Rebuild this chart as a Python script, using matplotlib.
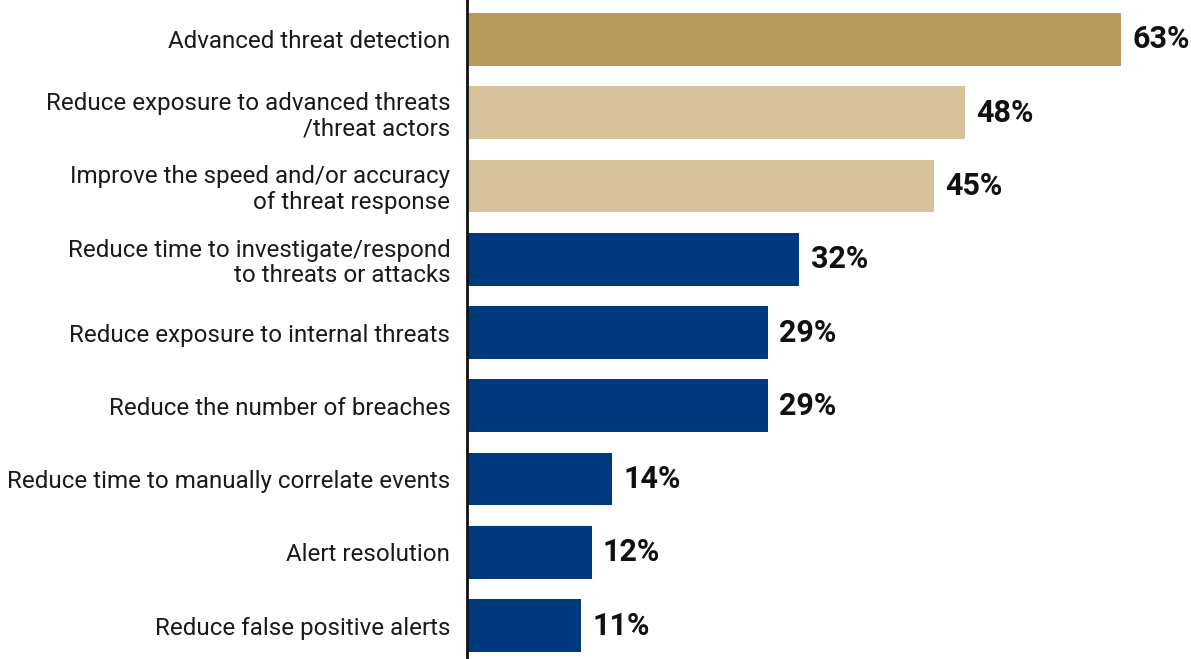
import matplotlib
matplotlib.use('Agg')
import matplotlib.pyplot as plt

# benefit categories, top to bottom
labels = [
    'Advanced threat detection',
    'Reduce exposure to advanced threats\n/threat actors',
    'Improve the speed and/or accuracy\nof threat response',
    'Reduce time to investigate/respond\nto threats or attacks',
    'Reduce exposure to internal threats',
    'Reduce the number of breaches',
    'Reduce time to manually correlate events',
    'Alert resolution',
    'Reduce false positive alerts',
]
values = [63, 48, 45, 32, 29, 29, 14, 12, 11]
tiers = ['top', 'high', 'high', 'rest', 'rest', 'rest', 'rest', 'rest', 'rest']

COLORS = {'top': '#B89A5C', 'high': '#D6C39B', 'rest': '#00397D'}
FONT = 'Roboto'

fig = plt.figure(figsize=(11.91, 6.59), dpi=100)
ax = fig.add_axes([467 / 1191, 0, 724 / 1191, 1])

ypos = list(range(len(values)))
ax.barh(ypos, values, height=0.72, color=[COLORS[t] for t in tiers])

for y, v in zip(ypos, values):
    ax.text(v + 1.1, y, f'{v}%', va='center', ha='left',
            fontsize=22, fontweight='bold', family=FONT, color='#111111')

ax.set_xlim(0, 69.75)
ax.set_ylim(8.457, -0.539)
ax.set_yticks(ypos)
ax.set_yticklabels(labels, fontsize=17.4, family=FONT, color='#1a1a1a',
                   linespacing=1.15)
ax.tick_params(axis='y', length=0, pad=12)
ax.set_xticks([])
for side in ('top', 'right', 'bottom'):
    ax.spines[side].set_visible(False)
ax.spines['left'].set_linewidth(2)
ax.spines['left'].set_color('#111111')

fig.savefig('out.png', dpi=100)
